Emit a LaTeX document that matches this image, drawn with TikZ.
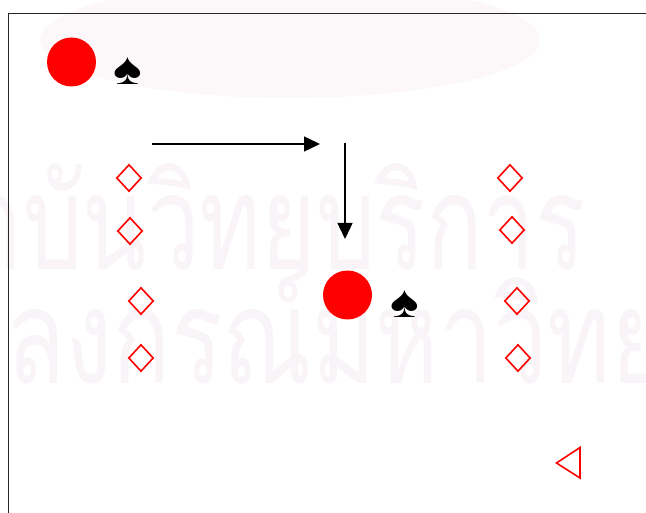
\documentclass[tikz,border=0pt]{standalone}
\usepackage{fontspec}
\newfontfamily\thaifont[Script=Thai]{Loma}
\newfontfamily\symfont{Liberation Sans}
\usetikzlibrary{arrows.meta,shapes.geometric}
\definecolor{wm}{RGB}{249,244,248}
\definecolor{wmbg}{RGB}{252,248,249}
\definecolor{redx}{RGB}{255,0,0}
\begin{document}
\begin{tikzpicture}[x=1pt,y=-1pt,
  dot/.style={circle,fill=redx,minimum size=49pt,inner sep=0pt},
  diam/.style={shape=diamond,draw=redx,line width=1.6pt,minimum width=25pt,minimum height=27pt,inner sep=0pt},
  spadesym/.style={font=\symfont\fontsize{45}{45}\selectfont,inner sep=0pt,xscale=1.2,transform shape},
  arr/.style={line width=1.4pt,-{Triangle[length=16pt,width=15pt]}},
  water/.style={text=wm,font=\thaifont\fontsize{132}{132}\selectfont,inner sep=0pt,transform shape}]
\useasboundingbox (0,0) rectangle (646,513);
\clip (0,0) rectangle (646,513);
% faint background emblem and watermark
\fill[wmbg] (290,40) ellipse [x radius=250pt,y radius=58pt];
\node[water,xscale=0.71,anchor=base east] (wm1) at (586,270) {สถาบันวิทยบริการ};
\node[water,xscale=0.73,anchor=base west] (wm2) at (-170,384) {จุฬาลงกรณ์มหาวิทยาลัย};
% frame
\draw[line width=1.8pt,black!85] (8.5,13.5) rectangle (700,600);
% circles and spades
\node[dot] (c1) at (71.5,62) {};
\node[spadesym] (s1) at (128,71) {♠};
\node[dot] (c2) at (347.5,295) {};
\node[spadesym] (s2) at (405,304) {♠};
% arrows
\coordinate (a1s) at (152,144);
\coordinate (a1e) at (320,144);
\coordinate (a2s) at (345,143);
\coordinate (a2e) at (345,239);
\draw[arr] (a1s) -- (a1e);
\draw[arr] (a2s) -- (a2e);
% diamonds
\node[diam] (d1) at (129,178) {};
\node[diam] (d2) at (130,231) {};
\node[diam] (d3) at (141,301) {};
\node[diam] (d4) at (141,358) {};
\node[diam] (d5) at (510,178) {};
\node[diam] (d6) at (512,230) {};
\node[diam] (d7) at (517,301) {};
\node[diam] (d8) at (518,358) {};
% triangle
\draw[redx,line width=1.6pt,line join=miter] (556.5,463) -- (580,447.5) -- (580,478) -- cycle;
\end{tikzpicture}
\end{document}
